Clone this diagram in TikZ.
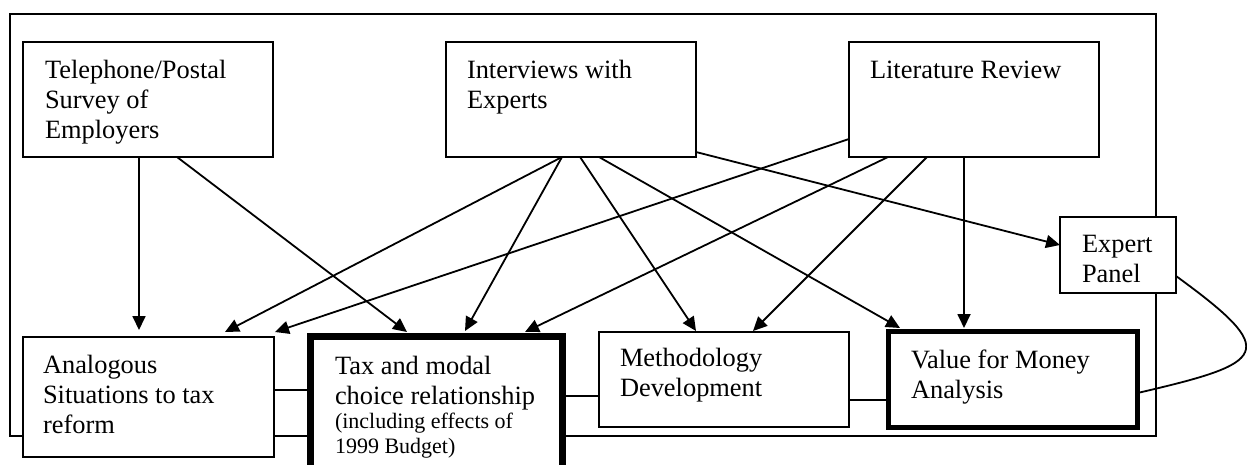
\documentclass[tikz,border=0pt]{standalone}
\usepackage{fontspec}
\setmainfont{Liberation Serif}
\usetikzlibrary{arrows.meta,calc}
\begin{document}
\begin{tikzpicture}[x=1pt,y=-1pt,
  box/.style={draw,line width=1.8pt,fill=white,inner sep=0pt,outer sep=0pt,anchor=north west},
  thickbox/.style={box,line width=7pt},
  midbox/.style={box,line width=5pt},
  txt/.style={inner sep=0pt,outer sep=0pt,align=left,anchor=north west,font=\fontsize{26.4}{30}\selectfont},
  smalltxt/.style={txt,font=\fontsize{22}{25}\selectfont},
  conn/.style={line width=1.8pt},
  arr/.style={conn,-{Triangle[length=14pt,width=13pt]}}]
\useasboundingbox (0,0) rectangle (1247,464);
\clip (0,0) rectangle (1247,464);
\fill[white] (0,0) rectangle (1247,464);
% outer frame
\draw[line width=2pt] (10,14) rectangle (1156,436);
% boxes
\node[box,minimum width=250pt,minimum height=115pt] (tel) at (23,42) {};
\node[box,minimum width=250pt,minimum height=115pt] (int) at (446,42) {};
\node[box,minimum width=250pt,minimum height=115pt] (lit) at (849,42) {};
\node[box,minimum width=116pt,minimum height=76pt] (exp) at (1060,217) {};
\node[box,minimum width=251pt,minimum height=120pt] (ana) at (23,337) {};
\node[thickbox,minimum width=252pt,minimum height=150pt] (tax) at (310.5,336.5) {};
\node[box,minimum width=250pt,minimum height=95pt] (met) at (599,332) {};
\node[midbox,minimum width=249pt,minimum height=96pt] (val) at (888.5,331.5) {};
% texts
\node[txt] (teltxt) at (45,56) {\rule{0pt}{22pt}Telephone/Postal\\Survey of\\Employers};
\node[txt] (inttxt) at (467,56) {\rule{0pt}{22pt}Interviews with\\Experts};
\node[txt] (littxt) at (870,56) {\rule{0pt}{22pt}Literature Review};
\node[txt] (exptxt) at (1082,230) {\rule{0pt}{22pt}Expert\\Panel};
\node[txt] (anatxt) at (43,351) {\rule{0pt}{22pt}Analogous\\Situations to tax\\reform};
\node[txt] (taxtxt) at (335,352) {\rule{0pt}{22pt}Tax and modal\\choice relationship};
\node[smalltxt] (taxsmall) at (335,410) {\rule{0pt}{18pt}(including effects of\\1999 Budget)};
\node[txt] (mettxt) at (620,344) {\rule{0pt}{22pt}Methodology\\Development};
\node[txt] (valtxt) at (911,346) {\rule{0pt}{22pt}Value for Money\\Analysis};
% arrows
\draw[arr] ($(tel.south west)+(116,0)$) -- ($(ana.north west)+(116,-7)$);
\draw[arr] ($(tel.south west)+(154,0)$) -- ($(tax.north west)+(96.5,-4.5)$);
\draw[arr] ($(int.south west)+(116,0)$) -- ($(ana.north west)+(202,-5)$);
\draw[arr] ($(int.south west)+(116,0)$) -- ($(tax.north west)+(154.5,-5.5)$);
\draw[arr] ($(int.south west)+(134,0)$) -- ($(met.north west)+(97,-1)$);
\draw[arr] ($(int.south west)+(153,0)$) -- ($(val.north west)+(11.5,-3.5)$);
\draw[arr] ($(int.south east)+(0,-5)$) -- ($(exp.north west)+(0,28)$);
\draw[arr] ($(lit.south west)+(0,-18)$) -- ($(ana.north west)+(252,-5)$);
\draw[arr] ($(lit.south west)+(39,0)$) -- ($(tax.north west)+(214.5,-4.5)$);
\draw[arr] ($(lit.south west)+(78,0)$) -- ($(met.north west)+(154,-1)$);
\draw[arr] ($(lit.south west)+(115,0)$) -- ($(val.north west)+(75.5,-3.5)$);
% plain links
\draw[conn] ($(ana.north east)+(0,53)$) -- ($(tax.north west)+(0,53.5)$);
\draw[conn] ($(tax.north east)+(0,59.5)$) -- ($(met.north west)+(0,64)$);
\draw[conn] ($(met.north east)+(0,68)$) -- ($(val.north west)+(0,68.5)$);
\draw[conn] ($(exp.north east)+(0,59)$) .. controls +(106,77) and +(129.5,-30) .. ($(val.north east)+(0,61.5)$);
\end{tikzpicture}
\end{document}
